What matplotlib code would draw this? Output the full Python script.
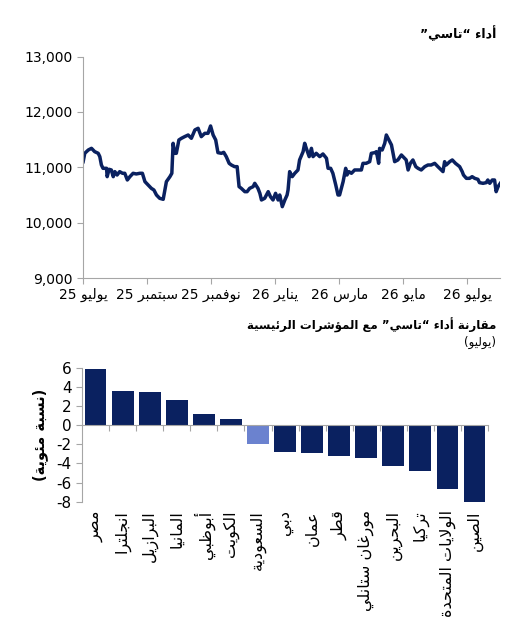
"""TASI performance line chart and comparison bar chart (Arabic labels)."""
import re
import numpy as np
import matplotlib
matplotlib.use("Agg")
import matplotlib.pyplot as plt

plt.rcParams['font.family'] = ['DejaVu Sans']
plt.rcParams['axes.unicode_minus'] = False

# ---- data -------------------------------------------------------------
# line chart: month offset from start of July 2025, index level
tasi_month = [0.00, 0.05, 0.16, 0.26, 0.36, 0.47, 0.52, 0.57, 0.62, 0.73,
              0.75, 0.81, 0.88, 0.94, 0.99, 1.06, 1.14, 1.23, 1.30, 1.38,
              1.46, 1.56, 1.66, 1.77, 1.85, 1.93, 2.03, 2.13, 2.21, 2.29,
              2.39, 2.50, 2.60, 2.71, 2.77, 2.81, 2.86, 2.91, 2.99, 3.07,
              3.17, 3.28, 3.38, 3.49, 3.59, 3.69, 3.80, 3.90, 3.98, 4.06,
              4.14, 4.21, 4.32, 4.39, 4.47, 4.56, 4.63, 4.73, 4.81, 4.87,
              4.94, 5.05, 5.12, 5.20, 5.31, 5.36, 5.46, 5.52, 5.57, 5.67,
              5.78, 5.85, 5.93, 6.01, 6.09, 6.14, 6.22, 6.30, 6.37, 6.40,
              6.45, 6.53, 6.61, 6.71, 6.76, 6.87, 6.92, 6.97, 7.06, 7.13,
              7.18, 7.28, 7.39, 7.49, 7.60, 7.65, 7.73, 7.80, 7.89, 7.96,
              8.01, 8.12, 8.20, 8.24, 8.30, 8.38, 8.48, 8.58, 8.69, 8.74,
              8.84, 8.95, 9.00, 9.11, 9.16, 9.23, 9.26, 9.34, 9.42, 9.47,
              9.55, 9.63, 9.68, 9.73, 9.83, 9.94, 10.04, 10.09, 10.15, 10.22,
              10.30, 10.39, 10.46, 10.56, 10.67, 10.77, 10.87, 10.98, 11.08,
              11.19, 11.24, 11.29, 11.34, 11.45, 11.53, 11.63, 11.76, 11.84,
              11.88, 11.97, 12.07, 12.15, 12.23, 12.33, 12.38, 12.49, 12.59,
              12.64, 12.70, 12.78, 12.85, 12.90, 12.96, 13.03]
tasi_value = [11102, 11253, 11313, 11343, 11283, 11253, 11193, 11042, 10982, 10982,
              10831, 10964, 10952, 10831, 10922, 10861, 10922, 10892, 10892, 10771,
              10831, 10892, 10880, 10892, 10892, 10741, 10681, 10620, 10590, 10500,
              10440, 10422, 10741, 10831, 10892, 11434, 11253, 11253, 11494, 11524,
              11554, 11584, 11524, 11675, 11705, 11554, 11614, 11614, 11747, 11584,
              11494, 11265, 11253, 11271, 11193, 11072, 11042, 11012, 11012, 10651,
              10620, 10560, 10560, 10620, 10651, 10711, 10620, 10530, 10410, 10440,
              10560, 10470, 10410, 10530, 10410, 10500, 10289, 10410, 10500, 10590,
              10922, 10831, 10892, 10952, 11133, 11283, 11434, 11343, 11193, 11343,
              11193, 11253, 11193, 11241, 11163, 10982, 10982, 10892, 10681, 10500,
              10500, 10741, 10982, 10861, 10922, 10892, 10952, 10952, 10952, 11072,
              11072, 11102, 11253, 11265, 11283, 11072, 11343, 11313, 11434, 11584,
              11494, 11404, 11253, 11102, 11133, 11223, 11163, 11133, 10952, 11072,
              11133, 11012, 10982, 10952, 11012, 11042, 11042, 11072, 11012,
              10952, 10922, 11102, 11042, 11102, 11133, 11072, 11012, 10922,
              10861, 10801, 10801, 10831, 10801, 10783, 10723, 10711, 10723,
              10771, 10711, 10771, 10771, 10560, 10651, 10711]
month_ticks = [0, 2, 4, 6, 8, 10, 12]
month_labels = ['يوليو 25', 'سبتمبر 25', 'نوفمبر 25', 'يناير 26',
                'مارس 26', 'مايو 26', 'يوليو 26']
level_ticks = [9000, 10000, 11000, 12000, 13000]
level_labels = ['9,000', '10,000', '11,000', '12,000', '13,000']

# bar chart: July change, percent
markets = ['مصر', 'انجلترا', 'البرازيل', 'المانيا', 'أبوظبي', 'الكويت',
           'السعودية', 'دبي', 'عمان', 'قطر', 'مورغان ستانلي', 'البحرين',
           'تركيا', 'الولايات المتحدة', 'الصين']
change_pct = [5.9, 3.6, 3.5, 2.6, 1.2, 0.6, -2.0, -2.8, -2.9, -3.2, -3.4,
              -4.3, -4.8, -6.7, -8.0]
highlight = 'السعودية'

title_top = 'أداء “تاسي”'
title_bar = 'مقارنة أداء “تاسي” مع المؤشرات الرئيسية'
subtitle_bar = '(يوليو)'
ylabel_bar = '(نسبة مئوية)'

# ---- minimal arabic shaping (matplotlib has no complex text layout) ----
# isolated form code point and number of forms (2 = right-joining, 4 = dual)
FORMS = {
    'ء': (0xFE80, 1), 'آ': (0xFE81, 2), 'أ': (0xFE83, 2), 'ؤ': (0xFE85, 2),
    'إ': (0xFE87, 2), 'ئ': (0xFE89, 4), 'ا': (0xFE8D, 2), 'ب': (0xFE8F, 4),
    'ة': (0xFE93, 2), 'ت': (0xFE95, 4), 'ث': (0xFE99, 4), 'ج': (0xFE9D, 4),
    'ح': (0xFEA1, 4), 'خ': (0xFEA5, 4), 'د': (0xFEA9, 2), 'ذ': (0xFEAB, 2),
    'ر': (0xFEAD, 2), 'ز': (0xFEAF, 2), 'س': (0xFEB1, 4), 'ش': (0xFEB5, 4),
    'ص': (0xFEB9, 4), 'ض': (0xFEBD, 4), 'ط': (0xFEC1, 4), 'ظ': (0xFEC5, 4),
    'ع': (0xFEC9, 4), 'غ': (0xFECD, 4), 'ف': (0xFED1, 4), 'ق': (0xFED5, 4),
    'ك': (0xFED9, 4), 'ل': (0xFEDD, 4), 'م': (0xFEE1, 4), 'ن': (0xFEE5, 4),
    'ه': (0xFEE9, 4), 'و': (0xFEED, 2), 'ى': (0xFEEF, 2), 'ي': (0xFEF1, 4),
}
LAM_ALEF = {'ا': 0xFEFB, 'أ': 0xFEF7, 'إ': 0xFEF9, 'آ': 0xFEF5}
MIRROR = {'(': ')', ')': '('}


def shape(word):
    # merge lam + alef first
    units = []
    i = 0
    while i < len(word):
        c = word[i]
        if c == 'ل' and i + 1 < len(word) and word[i + 1] in LAM_ALEF:
            units.append(('LA', LAM_ALEF[word[i + 1]]))
            i += 2
        else:
            units.append(('C', c))
            i += 1

    def joins_next(u):
        return u[0] == 'C' and u[1] in FORMS and FORMS[u[1]][1] == 4

    def joinable(u):
        return u[0] == 'LA' or (u[1] in FORMS and FORMS[u[1]][1] > 1)

    out = []
    for k, u in enumerate(units):
        prev_ok = k > 0 and joins_next(units[k - 1]) and joinable(u)
        next_ok = (k + 1 < len(units) and joins_next(u)
                   and joinable(units[k + 1]))
        if u[0] == 'LA':
            out.append(chr(u[1] + (1 if prev_ok else 0)))
            continue
        c = u[1]
        if c not in FORMS:
            out.append(c)
            continue
        base, n = FORMS[c]
        if n == 1:
            out.append(chr(base))
        elif n == 2:
            out.append(chr(base + (1 if prev_ok else 0)))
        else:
            if prev_ok and next_ok:
                out.append(chr(base + 3))
            elif prev_ok:
                out.append(chr(base + 1))
            elif next_ok:
                out.append(chr(base + 2))
            else:
                out.append(chr(base))
    return ''.join(out)


def ar(text):
    """Shape arabic text and put it in visual (left to right) order."""
    tokens = re.findall(r'[0-9A-Za-z.,%]+|[^0-9A-Za-z.,%]+', text)
    visual = []
    for t in reversed(tokens):
        if re.match(r'[0-9A-Za-z.,%]', t):
            visual.append(t)
        else:
            shaped = shape(t)
            visual.append(''.join(MIRROR.get(c, c) for c in reversed(shaped)))
    return ''.join(visual)


# ---- figure ----------------------------------------------------------
navy = '#0a2160'
light = '#6b82cf'
grey = '#a6a6a6'

fig = plt.figure(figsize=(5.23, 6.29), dpi=100)

# top: TASI line
ax1 = fig.add_axes([0.159, 0.558, 0.797, 0.352])
ax1.plot(tasi_month, tasi_value, color=navy, linewidth=2.5,
         solid_joinstyle='round')
ax1.set_xlim(0, 13.02)
ax1.set_ylim(9000, 13000)
ax1.set_yticks(level_ticks)
ax1.set_yticklabels(level_labels)
ax1.set_xticks(month_ticks)
ax1.set_xticklabels([ar(m) for m in month_labels])
for s in ['top', 'right']:
    ax1.spines[s].set_visible(False)
for s in ['left', 'bottom']:
    ax1.spines[s].set_color(grey)
ax1.tick_params(axis='both', colors=grey, labelcolor='black', labelsize=10,
                length=4, width=0.8)
ax1.tick_params(axis='x', pad=3)

fig.text(0.950, 0.9475, ar(title_top), ha='right', va='center',
         fontsize=9, fontweight='bold')

# bottom: comparison bars
ax2 = fig.add_axes([0.157, 0.2024, 0.776, 0.2130])
pos = np.arange(len(markets))
colors = [light if m == highlight else navy for m in markets]
ax2.bar(pos, change_pct, width=0.8, color=colors)
ax2.set_xlim(-0.5, len(markets) - 0.5)
ax2.set_ylim(-8, 6)
ax2.set_yticks(range(-8, 7, 2))
ax2.set_xticks(pos + 0.5, minor=True)
ax2.set_xticks([])
ax2.spines['bottom'].set_position(('data', 0))
for s in ['top', 'right']:
    ax2.spines[s].set_visible(False)
for s in ['left', 'bottom']:
    ax2.spines[s].set_color(grey)
ax2.tick_params(axis='y', colors=grey, labelcolor='black', labelsize=11,
                length=4, width=0.8)
ax2.tick_params(axis='x', which='minor', colors=grey, length=4, width=0.8,
                labelbottom=False)
for p, m in zip(pos, markets):
    ax2.text(p, -8.9, ar(m), rotation=90, ha='center', va='top',
             fontsize=11.5)
ax2.set_ylabel(ar(ylabel_bar), fontsize=10.5, fontweight='bold', labelpad=6)

fig.text(0.950, 0.483, ar(title_bar), ha='right', va='center',
         fontsize=8.5, fontweight='bold')
fig.text(0.948, 0.456, ar(subtitle_bar), ha='right', va='center',
         fontsize=8.5)

fig.savefig('out.png', dpi=100)
